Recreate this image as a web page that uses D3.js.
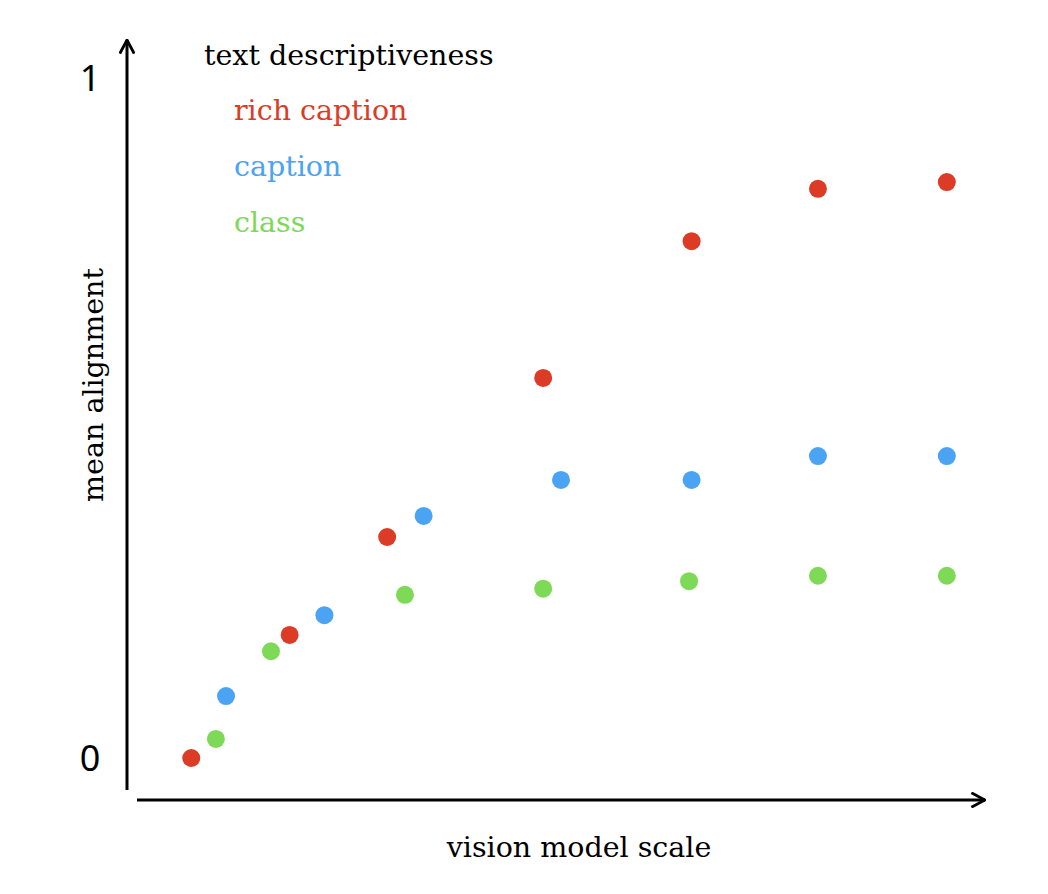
<!DOCTYPE html>
<html><head><meta charset="utf-8">
<script src="https://cdn.jsdelivr.net/npm/d3@7"></script>
<style>body{margin:0;background:#fff}</style></head>
<body><svg id="c" width="1048" height="894"></svg>
<script>
const seriesNames = ["rich caption","caption","class"];
const seriesColors = ["#dc3b26","#4aa3f3","#7ed957"];
const redX = [6.4,18.0,29.5,47.9,65.4,80.3,95.5];
const redY = [0,0.181,0.325,0.559,0.760,0.837,0.847];
const blueX = [10.5,22.1,33.8,50.0,65.4,80.3,95.5];
const blueY = [0.091,0.210,0.356,0.409,0.409,0.444,0.444];
const greenX = [9.3,15.8,31.6,47.9,65.1,80.3,95.5];
const greenY = [0.028,0.157,0.240,0.249,0.260,0.268,0.268];
const yTicks = [0,1];

const svg = d3.select("#c");
const x = d3.scaleLinear().domain([0,100]).range([137,985]);
const y = d3.scaleLinear().domain([0,1]).range([758,78]);
const serif = "'DejaVu Serif', serif";
svg.append("defs").append("marker").attr("id","ah").attr("viewBox","0 0 10 10")
 .attr("refX",9.5).attr("refY",5).attr("markerWidth",16).attr("markerHeight",16)
 .attr("markerUnits","userSpaceOnUse").attr("orient","auto")
 .append("path").attr("d","M1,0.5 L9.5,5 L1,9.5").attr("fill","none").attr("stroke","#000").attr("stroke-width",1.8);
svg.append("line").attr("x1",127).attr("y1",790).attr("x2",127).attr("y2",40)
 .attr("stroke","#000").attr("stroke-width",3).attr("marker-end","url(#ah)");
svg.append("line").attr("x1",137).attr("y1",800).attr("x2",985).attr("y2",800)
 .attr("stroke","#000").attr("stroke-width",3).attr("marker-end","url(#ah)");
svg.selectAll(".yt").data(yTicks).join("text").attr("x",90).attr("y",d=>y(d)+13)
 .attr("text-anchor","middle").attr("font-family","'Noto Sans', sans-serif").attr("font-size",36).text(d=>d);
svg.append("text").attr("transform","translate(103,385) rotate(-90)").attr("text-anchor","middle")
 .attr("font-family",serif).attr("font-size",28.5).text("mean alignment");
svg.append("text").attr("x",579).attr("y",857).attr("text-anchor","middle")
 .attr("font-family",serif).attr("font-size",28.5).text("vision model scale");
svg.append("text").attr("x",204).attr("y",65).attr("font-family",serif).attr("font-size",28.5).text("text descriptiveness");
seriesNames.forEach((n,i)=>svg.append("text").attr("x",234).attr("y",120+i*56)
 .attr("font-family",serif).attr("font-size",28.5).attr("fill",seriesColors[i]).text(n));
const sets=[[redX,redY],[blueX,blueY],[greenX,greenY]];
sets.forEach(([xs,ys],i)=>svg.selectAll(".p"+i).data(xs.map((v,j)=>[v,ys[j]])).join("circle")
 .attr("cx",d=>x(d[0])).attr("cy",d=>y(d[1])).attr("r",9).attr("fill",seriesColors[i]));
</script></body></html>
